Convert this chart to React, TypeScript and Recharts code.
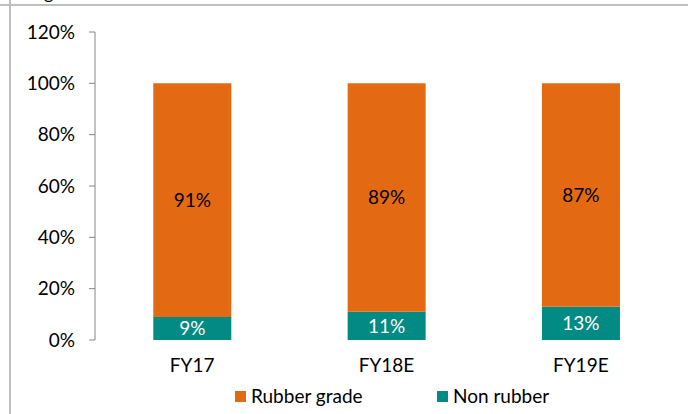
import React from 'react';
import { BarChart, Bar, XAxis, YAxis, Legend, LabelList } from 'recharts';

const categories = ['FY17', 'FY18E', 'FY19E'];
const rubberGrade = [91, 89, 87];
const nonRubber = [9, 11, 13];
const yTicks = [0, 20, 40, 60, 80, 100, 120];
const edgeTicks = [0, 1, 2, 3];

const ORANGE = '#E36A13';
const TEAL = '#028A84';
const FONT = 'Lato, "Open Sans", sans-serif';
const FS = 19;

const data = categories.map((c, i) => ({
  name: c,
  pos: i + 0.5,
  rubber: rubberGrade[i],
  non: nonRubber[i],
}));

const pct = (v: any) => `${v}%`;

const legendItems = [
  { label: 'Rubber grade', color: ORANGE, left: 235 },
  { label: 'Non rubber', color: TEAL, left: 437 },
];

const LegendContent = () => (
  <div style={{ position: 'relative', width: 688, height: 24, fontFamily: FONT, fontSize: FS, color: '#000' }}>
    {legendItems.map((it) => (
      <div key={it.label} style={{ position: 'absolute', left: it.left, top: 0, display: 'flex', alignItems: 'center', height: 24 }}>
        <span style={{ display: 'inline-block', width: 11, height: 11, background: it.color, marginRight: 5 }} />
        <span style={{ lineHeight: '24px' }}>{it.label}</span>
      </div>
    ))}
  </div>
);

export default function App() {
  return (
    <div style={{ position: 'absolute', left: 0, top: 0, width: 688, height: 414, background: '#fff', overflow: 'hidden' }}>
      <div style={{ position: 'absolute', left: 0, top: 4, width: 688, height: 2, background: '#BFBFBF' }} />
      <div style={{ position: 'absolute', left: 9, top: 0, width: 2, height: 414, background: '#BFBFBF' }} />
      <div style={{ position: 'absolute', left: 44, top: -17, fontFamily: FONT, fontSize: 18, lineHeight: '18px', color: '#000' }}>g</div>
      <BarChart
        width={688}
        height={414}
        data={data}
        margin={{ top: 32, right: 10, left: 0, bottom: 44 }}
        barCategoryGap="30%"
        style={{ fontFamily: FONT }}
      >
        <XAxis
          xAxisId="edges"
          dataKey="pos"
          type="number"
          domain={[0, 3]}
          ticks={edgeTicks}
          height={0}
          tickSize={6}
          tickFormatter={() => ''}
          stroke="#868686"
          axisLine={{ stroke: '#868686' }}
          tickLine={{ stroke: '#868686' }}
        />
        <XAxis
          xAxisId="cat"
          dataKey="name"
          height={30}
          axisLine={false}
          tickLine={false}
          tickSize={6}
          tickMargin={13}
          tick={{ fill: '#000', fontSize: FS, fontFamily: FONT }}
          interval={0}
        />
        <YAxis
          width={95}
          domain={[0, 120]}
          ticks={yTicks}
          tickFormatter={pct}
          tickSize={6}
          tickMargin={14}
          axisLine={{ stroke: '#868686' }}
          tickLine={{ stroke: '#868686' }}
          tick={{ fill: '#000', fontSize: FS, fontFamily: FONT }}
        />
        <Bar xAxisId="cat" dataKey="non" name="Non rubber" stackId="a" fill={TEAL} isAnimationActive={false}>
          <LabelList dataKey="non" position="center" formatter={pct} fill="#fff" fontSize={FS} fontFamily={FONT} />
        </Bar>
        <Bar xAxisId="cat" dataKey="rubber" name="Rubber grade" stackId="a" fill={ORANGE} isAnimationActive={false}>
          <LabelList dataKey="rubber" position="center" formatter={pct} fill="#000" fontSize={FS} fontFamily={FONT} />
        </Bar>
        <Legend
          verticalAlign="middle"
          layout="horizontal"
          wrapperStyle={{ top: 384, left: 0, width: 688 }}
          content={<LegendContent />}
        />
      </BarChart>
    </div>
  );
}
